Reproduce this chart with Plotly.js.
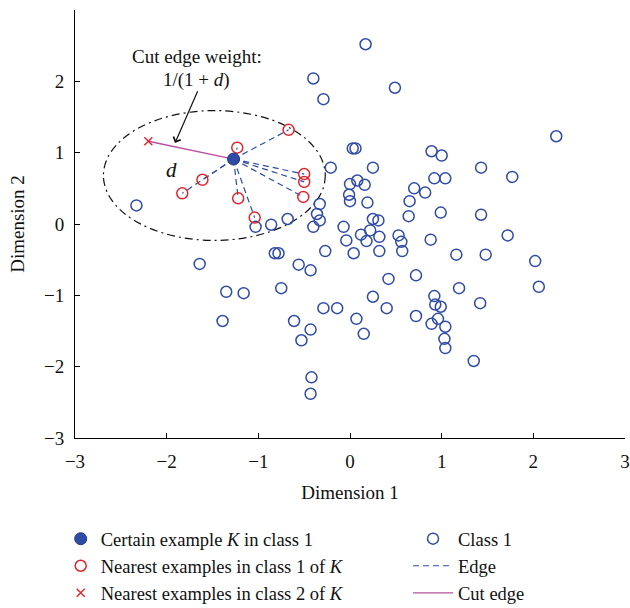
<!DOCTYPE html>
<html>
<head>
<meta charset="utf-8">
<script src="https://cdn.plot.ly/plotly-3.0.1.min.js"></script>
<style>html,body{margin:0;padding:0;background:#fff;}#chart{width:630px;height:608px;}</style>
</head>
<body>
<div id="chart"></div>
<script>
// Class 1 examples (blue open circles)
var classX = [0.17,-0.40,-0.29,0.49,2.25,0.03,0.06,-0.21,0.25,0.89,1.00,1.43,1.77,0.92,1.04,0.00,0.08,0.16,-0.01,0.00,0.19,0.70,0.82,0.65,0.99,0.64,1.43,1.72,-0.33,-0.36,-0.33,-0.40,-0.07,0.25,0.31,0.12,0.22,0.32,0.18,-0.04,0.53,0.56,0.57,0.88,0.32,0.04,-0.27,1.16,1.48,2.02,-0.56,-0.43,0.42,0.72,1.19,2.06,0.25,0.92,-0.29,-0.14,0.40,0.93,0.99,1.42,0.07,0.72,0.96,0.89,1.04,-0.43,-0.53,0.15,1.03,1.04,1.35,-0.42,-0.43,-0.61,-0.75,-0.82,-0.78,-0.86,-0.68,-1.03,-2.33,-1.64,-1.35,-1.16,-1.39];
var classY = [2.52,2.04,1.75,1.91,1.23,1.06,1.06,0.79,0.79,1.02,0.96,0.79,0.66,0.64,0.64,0.56,0.61,0.55,0.41,0.32,0.30,0.50,0.44,0.32,0.16,0.11,0.13,-0.16,0.28,0.14,0.05,-0.04,-0.04,0.07,0.05,-0.15,-0.09,-0.18,-0.24,-0.23,-0.16,-0.25,-0.38,-0.22,-0.38,-0.41,-0.38,-0.43,-0.43,-0.52,-0.57,-0.65,-0.77,-0.72,-0.90,-0.88,-1.02,-1.01,-1.18,-1.18,-1.18,-1.13,-1.16,-1.11,-1.33,-1.29,-1.33,-1.40,-1.44,-1.48,-1.63,-1.54,-1.61,-1.74,-1.92,-2.15,-2.38,-1.36,-0.90,-0.41,-0.41,-0.01,0.07,-0.04,0.26,-0.56,-0.95,-0.97,-1.36];
// Nearest examples of K in class 1 (red open circles)
var nearX = [-0.67,-1.23,-0.50,-0.50,-0.51,-1.22,-1.61,-1.83,-1.04];
var nearY = [1.32,1.07,0.70,0.59,0.38,0.36,0.62,0.43,0.09];
// Certain example K
var kX = [-1.27];
var kY = [0.91];
// Nearest example of K in class 2 (red x)
var c2X = [-2.20];
var c2Y = [1.16];
var ticks = [-3,-2,-1,0,1,2,3];

var BLUE = '#2f4ba6', RED = '#e2242c', MAG = '#b9509f', FONT = 'Liberation Serif, Times New Roman, serif';

var edgeX = [], edgeY = [];
for (var i = 0; i < nearX.length; i++) {
  edgeX.push(kX[0], nearX[i], null);
  edgeY.push(kY[0], nearY[i], null);
}

var traces = [
  {x: classX, y: classY, mode: 'markers', type: 'scatter', name: 'Class 1', legend: 'legend2', legendrank: 1,
   marker: {symbol: 'circle-open', size: 11, color: BLUE, line: {width: 1.5, color: BLUE}}},
  {x: edgeX, y: edgeY, mode: 'lines', type: 'scatter', name: 'Edge', legend: 'legend2', legendrank: 2,
   line: {color: BLUE, width: 1.2, dash: '6px,4px'}},
  {x: [kX[0], c2X[0]], y: [kY[0], c2Y[0]], mode: 'lines', type: 'scatter', name: 'Cut edge', legend: 'legend2', legendrank: 3,
   line: {color: MAG, width: 1.3}},
  {x: nearX, y: nearY, mode: 'markers', type: 'scatter', name: 'Nearest examples in class 1 of <i>K</i>', legendrank: 2,
   marker: {symbol: 'circle-open', size: 11, color: RED, line: {width: 1.5, color: RED}}},
  {x: c2X, y: c2Y, mode: 'markers', type: 'scatter', name: 'Nearest examples in class 2 of <i>K</i>', legendrank: 3,
   marker: {symbol: 'x-thin-open', size: 8, color: RED, line: {width: 1.4, color: RED}}},
  {x: kX, y: kY, mode: 'markers', type: 'scatter', name: 'Certain example <i>K</i> in class 1', legendrank: 1,
   marker: {symbol: 'circle', size: 12, color: BLUE, line: {width: 1, color: '#24378a'}}}
];

var axisCommon = {
  range: [-3, 3], tickvals: ticks, showgrid: false, zeroline: false,
  showline: true, linecolor: '#000', linewidth: 1, mirror: false,
  ticks: 'inside', ticklen: 5, tickwidth: 1, tickcolor: '#000',
  tickfont: {family: FONT, size: 19, color: '#111'}, fixedrange: true, automargin: false
};

var LEGFONT = {family: FONT, size: 18.5, color: '#111'};

var layout = {
  width: 630, height: 608,
  margin: {l: 75, r: 5, t: 10, b: 170, autoexpand: false},
  paper_bgcolor: '#fff', plot_bgcolor: '#fff',
  font: {family: FONT, size: 19, color: '#111'},
  xaxis: Object.assign({}, axisCommon, {ticklabelstandoff: 6,
    title: {text: 'Dimension 1', font: {family: FONT, size: 19, color: '#111'}, standoff: 14}}),
  yaxis: Object.assign({}, axisCommon, {ticklabelstandoff: 6,
    title: {text: 'Dimension 2', font: {family: FONT, size: 19, color: '#111'}, standoff: 14}}),
  showlegend: true,
  legend: {x: -0.026, xanchor: 'left', y: -0.192, yanchor: 'top', orientation: 'v',
    bgcolor: 'rgba(0,0,0,0)', borderwidth: 0, font: LEGFONT, itemwidth: 30},
  legend2: {x: 0.6055, xanchor: 'left', y: -0.192, yanchor: 'top', orientation: 'v',
    bgcolor: 'rgba(0,0,0,0)', borderwidth: 0, font: LEGFONT, itemwidth: 40},
  shapes: [
    {type: 'circle', xref: 'x', yref: 'y', x0: -2.69, x1: -0.27, y0: -0.23, y1: 1.59,
     line: {color: '#111', width: 1.2, dash: '8px,4px,2px,4px'}, layer: 'below'}
  ],
  annotations: [
    {x: -1.672, y: 2.351, xref: 'x', yref: 'y', text: 'Cut edge weight:', showarrow: false,
     font: {family: FONT, size: 19, color: '#111'}},
    {x: -1.672, y: 2.024, xref: 'x', yref: 'y', text: '1/(1 + <i>d</i>)', showarrow: false,
     font: {family: FONT, size: 19, color: '#111'}},
    {x: -1.945, y: 0.762, xref: 'x', yref: 'y', text: '<i>d</i>', showarrow: false,
     font: {family: FONT, size: 21, color: '#111'}},
    {x: -1.909, y: 1.136, xref: 'x', yref: 'y', ax: -1.655, ay: 1.883, axref: 'x', ayref: 'y',
     text: '', showarrow: true, arrowhead: 4, arrowsize: 1.3, arrowwidth: 1.2, arrowcolor: '#111'}
  ]
};

Plotly.newPlot('chart', traces, layout, {displayModeBar: false, staticPlot: true});
</script>
</body>
</html>
